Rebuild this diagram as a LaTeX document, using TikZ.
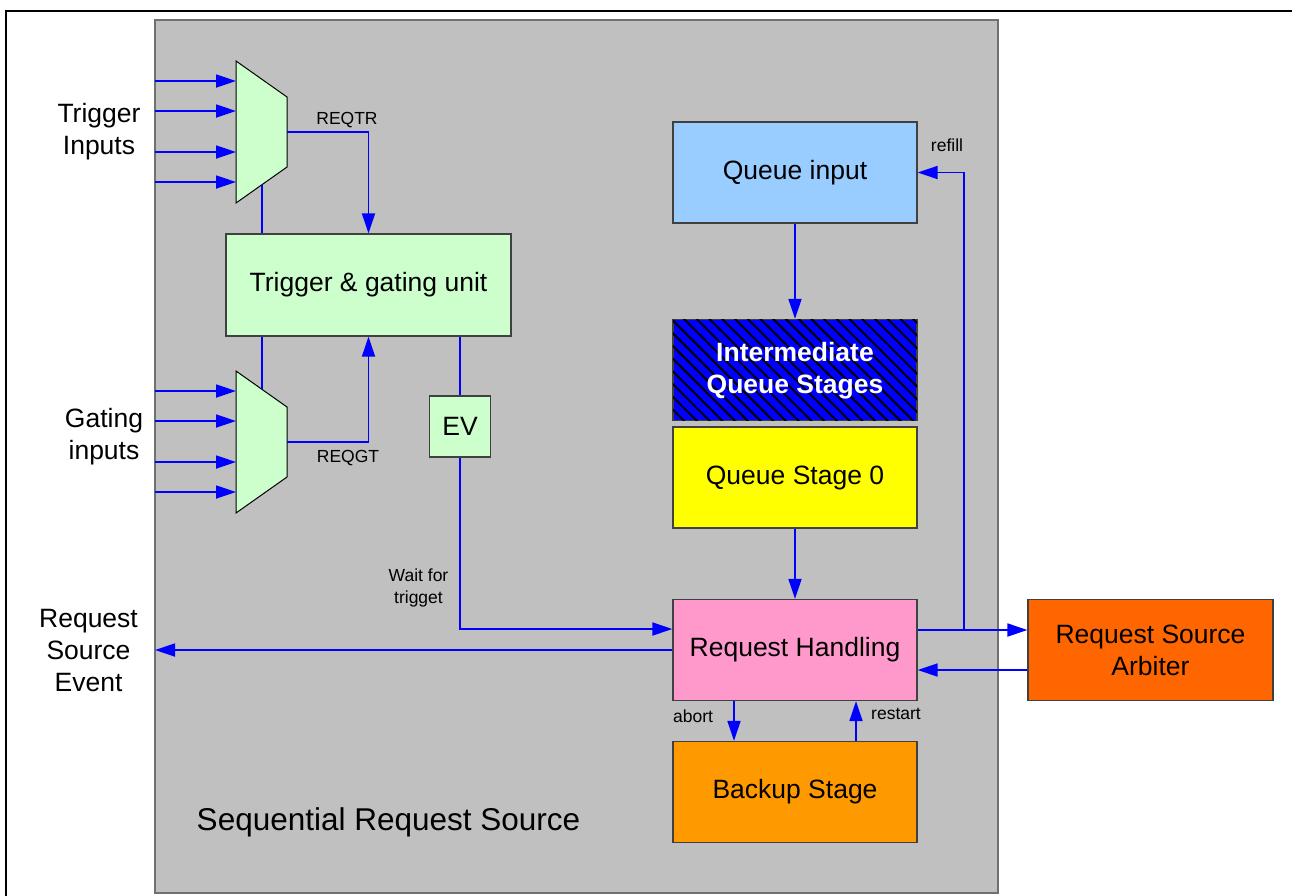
\documentclass[tikz,border=0pt]{standalone}
\usepackage{fontspec}
\setmainfont{Liberation Sans}
\usepackage{xcolor}
\usetikzlibrary{arrows.meta, patterns.meta}
\definecolor{panelgray}{HTML}{C0C0C0}
\definecolor{paneledge}{HTML}{707070}
\definecolor{boxedge}{HTML}{404040}
\definecolor{sigblue}{HTML}{0000FF}
\definecolor{unitgreen}{HTML}{CCFFCC}
\definecolor{qinblue}{HTML}{99CCFF}
\definecolor{qsyellow}{HTML}{FFFF00}
\definecolor{rhpink}{HTML}{FF99CC}
\definecolor{bkporange}{HTML}{FF9900}
\definecolor{arborange}{HTML}{FF6600}
\newcommand{\bigfont}{\fontsize{26.5}{32}\selectfont}
\newcommand{\smallfont}{\fontsize{17.5}{22}\selectfont}
\tikzset{block/.style={draw=boxedge, line width=1.3pt, minimum width=244pt, minimum height=101pt, inner sep=0pt, align=center, font=\bigfont}}
\tikzset{sig/.style={draw=sigblue, line width=1.8pt}}
\tikzset{sigarrow/.style={sig, -{Triangle[length=20pt,width=13pt]}}}
\tikzset{siglabel/.style={font=\smallfont, align=center, inner sep=0pt}}
% input mux: #1 name, #2 top y of the left edge
\newcommand{\muxblock}[2]{%
  \draw[fill=unitgreen, draw=black, line width=1pt] (236,#2) -- (287,#2+36) -- (287,#2+106) -- (236,#2+142) -- cycle;
  \coordinate (#1-out) at (287,#2+71);
  \coordinate (#1-top) at (262,#2+18.4);
  \coordinate (#1-bot) at (262,#2+123.6);
  \foreach \dy [count=\i] in {20,50,91,121} {
    \coordinate (#1-in\i) at (236,#2+\dy);
    \coordinate (#1-src\i) at (155,#2+\dy);
    \draw[sigarrow] (#1-src\i) -- (#1-in\i);
  }
}

\begin{document}
\begin{tikzpicture}[x=1pt, y=-1pt]
\useasboundingbox (0,0) rectangle (1292,895);
\draw[line width=2.5pt] (6,11) rectangle (1310,910);
\draw[fill=panelgray, draw=paneledge, line width=2pt] (155,20) rectangle (998,893);

% left column
\muxblock{tmux}{61}
\muxblock{gmux}{371}
\node[block, fill=unitgreen, minimum width=285pt, minimum height=102pt] (trig) at (368.5,285) {Trigger \& gating unit};
\node[block, fill=unitgreen, minimum width=61pt, minimum height=61pt] (ev) at (460,426.5) {EV};
\node[font=\bigfont, align=center] (tinlbl) at (99,132) {Trigger\\Inputs};
\node[font=\bigfont, align=center] (ginlbl) at (104,437) {Gating\\inputs};
\node[font=\bigfont, align=center] (rselbl) at (88.5,650) {Request\\Source\\Event};
\node[font=\fontsize{31.5}{38}\selectfont] (srclbl) at (388.5,822) {Sequential Request Source};

% right column
\node[block, fill=qinblue] (qin) at (795,172.5) {Queue input};
\node[block, fill=sigblue, text=white, font=\bigfont\bfseries,
  postaction={pattern={Lines[angle=-45, distance=9pt, line width=2pt]}, pattern color=black}] (qmid) at (795,370) {\phantom{Intermediate}\\\phantom{Queue Stages}};
\node[text=white, font=\bigfont\bfseries, align=center] (qmidtxt) at (795,371) {Intermediate\\Queue Stages};
\node[block, fill=qsyellow] (qs0) at (795,477.5) {Queue Stage 0};
\node[block, fill=rhpink] (rh) at (795,650) {Request Handling};
\node[block, fill=bkporange] (bkp) at (795,792) {Backup Stage};
\node[block, fill=arborange, minimum width=245pt] (arb) at (1150.5,650) {Request Source\\Arbiter};

% trigger and gating paths
\draw[sigarrow] (tmux-out) -| (trig.north);
\draw[sig] (tmux-bot) -- (trig.north -| tmux-bot);
\draw[sig] (trig.south -| gmux-top) -- (gmux-top);
\draw[sigarrow] (gmux-out) -| (trig.south);
\draw[sig] (trig.south -| ev.north) -- (ev.north);
\draw[sigarrow] (ev.south) |- ([yshift=21pt]rh.west);
\node[font=\smallfont] (reqtr) at (347,120) {REQTR};
\node[font=\smallfont] (reqgt) at (348,458) {REQGT};
\node[siglabel] (waitlbl) at (418.5,588) {Wait for\\trigget};

% queue and handling paths
\coordinate (rseend) at (155,650);
\coordinate (tap) at (964,630);
\draw[sigarrow] (qin) -- (qmid);
\draw[sigarrow] (qs0) -- (rh);
\draw[sigarrow] (rh.west) -- (rseend);
\draw[sigarrow] ([yshift=20pt]rh.east) -- ([yshift=20pt]arb.west);
\draw[sigarrow] ([yshift=-20pt]arb.west) -- ([yshift=-20pt]rh.east);
\draw[sigarrow] (tap) |- (qin.east);
\draw[sigarrow] ([xshift=-61pt]rh.south) -- ([xshift=-61pt]bkp.north);
\draw[sigarrow] ([xshift=61pt]bkp.north) -- ([xshift=61pt]rh.south);
\node[font=\smallfont] (refill) at (947,145) {refill};
\node[font=\smallfont] (abort) at (693,716) {abort};
\node[font=\smallfont] (restart) at (896,714) {restart};
\end{tikzpicture}
\end{document}
